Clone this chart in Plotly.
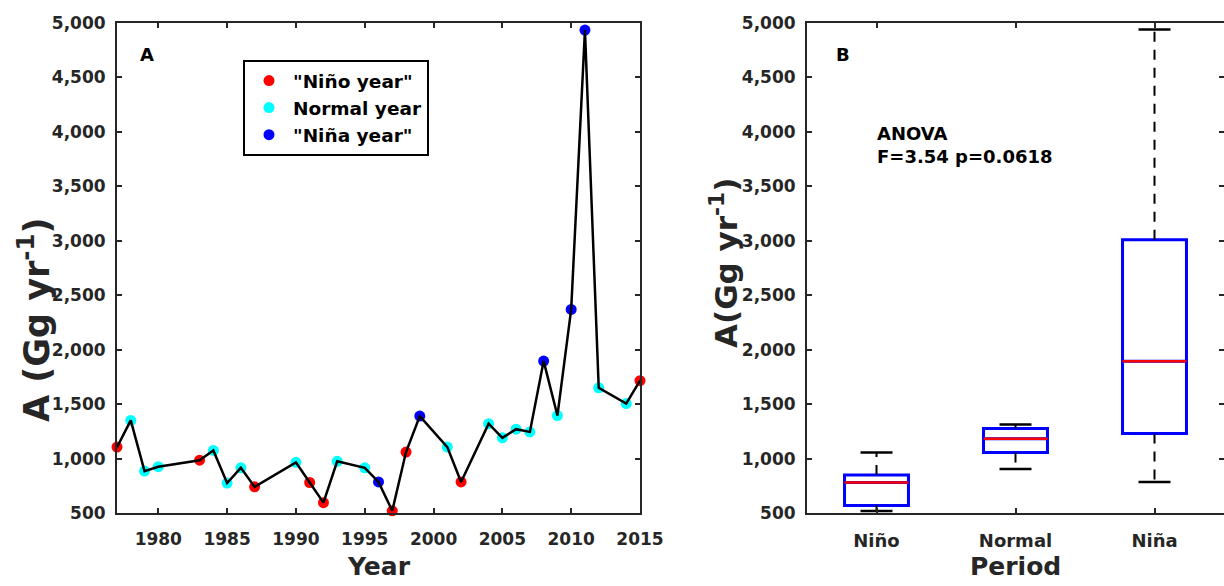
import plotly.graph_objects as go

# ---------------- data ----------------
years = [1977, 1978, 1979, 1980, 1983, 1984, 1985, 1986, 1987, 1990, 1991, 1992,
         1993, 1995, 1996, 1997, 1998, 1999, 2001, 2002, 2004, 2005, 2006, 2007,
         2008, 2009, 2010, 2011, 2012, 2014, 2015]
values = [1105, 1350, 885, 925, 985, 1075, 775, 915, 740, 965, 780, 595,
          975, 915, 785, 520, 1060, 1390, 1105, 785, 1320, 1190, 1270, 1245,
          1895, 1395, 2370, 4935, 1650, 1505, 1715]
year_type = ["nino", "normal", "normal", "normal", "nino", "normal", "normal", "normal",
             "nino", "normal", "nino", "nino", "normal", "normal", "nina", "nino",
             "nino", "nina", "normal", "nino", "normal", "normal", "normal", "normal",
             "nina", "normal", "nina", "nina", "normal", "normal", "nino"]

type_keys = ["nino", "normal", "nina"]
type_labels = ['"Niño year"', "Normal year", '"Niña year"']
type_colors = ["#FF0000", "#00FFFF", "#0000FF"]

periods = ["Niño", "Normal", "Niña"]
box_q1 = [570, 1055, 1230]
box_median = [780, 1182, 1893]
box_q3 = [850, 1277, 3010]
whisker_low = [518, 905, 784]
whisker_high = [1055, 1312, 4940]

y_ticks = list(range(500, 5001, 500))
x_ticks = [1980, 1985, 1990, 1995, 2000, 2005, 2010, 2015]

# ---------------- style ----------------
FONT = "DejaVu Sans"
AX = "#262626"
W, H = 1224, 586
BOX_W = 0.46
CAP_W = 0.23

def px(x):
    return x / W

def py(y):
    return 1 - y / H

fig = go.Figure()

# Panel A: markers (under the line)
for key, lab, col in zip(type_keys, type_labels, type_colors):
    xs = [yr for yr, t in zip(years, year_type) if t == key]
    ys = [v for v, t in zip(values, year_type) if t == key]
    fig.add_trace(go.Scatter(x=xs, y=ys, mode="markers", name=lab,
                             marker=dict(color=col, size=11, line=dict(width=0)),
                             xaxis="x", yaxis="y", cliponaxis=False))
fig.add_trace(go.Scatter(x=years, y=values, mode="lines", showlegend=False,
                         line=dict(color="black", width=2.5),
                         xaxis="x", yaxis="y", hoverinfo="skip"))

# Panel B: box plot
pos = [i + 1 for i in range(len(periods))]
wx, wy, cx, cy, mx, my = [], [], [], [], [], []
for p, lo, q1, med, q3, hi in zip(pos, whisker_low, box_q1, box_median, box_q3, whisker_high):
    wx += [p, p, None, p, p, None]
    wy += [q3, hi, None, q1, lo, None]
    cx += [p - CAP_W / 2, p + CAP_W / 2, None, p - CAP_W / 2, p + CAP_W / 2, None]
    cy += [hi, hi, None, lo, lo, None]
    mx += [p - BOX_W / 2, p + BOX_W / 2, None]
    my += [med, med, None]

fig.add_trace(go.Scatter(x=wx, y=wy, mode="lines", showlegend=False,
                         line=dict(color="black", width=2, dash="10px,8px"),
                         xaxis="x2", yaxis="y2", hoverinfo="skip"))
fig.add_trace(go.Scatter(x=cx, y=cy, mode="lines", showlegend=False,
                         line=dict(color="black", width=2.5),
                         xaxis="x2", yaxis="y2", hoverinfo="skip"))
fig.add_trace(go.Box(x=pos, q1=box_q1, median=box_median, q3=box_q3,
                     lowerfence=box_q1, upperfence=box_q3, width=BOX_W,
                     whiskerwidth=0, boxpoints=False, showlegend=False,
                     fillcolor="rgba(0,0,0,0)", line=dict(color="#0000FF", width=3),
                     xaxis="x2", yaxis="y2"))
fig.add_trace(go.Scatter(x=mx, y=my, mode="lines", showlegend=False,
                         line=dict(color="#FF0000", width=2.5),
                         xaxis="x2", yaxis="y2", hoverinfo="skip"))

axis_common = dict(showline=True, linecolor=AX, linewidth=2, mirror="ticks",
                   ticks="inside", ticklen=5, tickwidth=1.5, tickcolor=AX,
                   showgrid=False, zeroline=False, automargin=False)
tick_num_font = dict(family=FONT, size=17, color=AX, weight="bold")

y_dom = [py(513), py(23)]
fig.update_layout(
    width=W, height=H,
    margin=dict(l=0, r=0, t=0, b=0, autoexpand=False),
    paper_bgcolor="white", plot_bgcolor="white",
    xaxis=dict(domain=[px(117), px(640)], range=[1977, 2015], tickvals=x_ticks,
               tickfont=tick_num_font, ticklabelstandoff=10, anchor="y", **axis_common),
    yaxis=dict(domain=y_dom, range=[500, 5000], tickvals=y_ticks, tickformat=",",
               tickfont=tick_num_font, ticklabelstandoff=6, anchor="x", **axis_common),
    xaxis2=dict(domain=[px(807), 1.0], range=[0.5, 3.5], tickvals=pos, ticktext=periods,
                tickfont=dict(family=FONT, size=18, color=AX, weight="bold"),
                ticklabelstandoff=10, anchor="y2", **axis_common),
    yaxis2=dict(domain=y_dom, range=[500, 5000], tickvals=y_ticks, tickformat=",",
                tickfont=tick_num_font, ticklabelstandoff=6, anchor="x2", **axis_common),
    showlegend=True,
    legend=dict(x=px(243), y=py(60), xanchor="left", yanchor="top",
                bgcolor="white", bordercolor="black", borderwidth=2,
                itemwidth=38,
                font=dict(family=FONT, size=18.5, color="black", weight="bold"),
                itemclick=False),
)

ann_font = lambda s, c="black": dict(family=FONT, size=s, color=c, weight="bold")
annotations = [
    dict(text="A", x=px(147), y=py(54), font=ann_font(18)),
    dict(text="B", x=px(843), y=py(55), font=ann_font(18)),
    dict(text="ANOVA<br>F=3.54 p=0.0618", x=px(875), y=py(145), xanchor="left",
         align="left", font=ann_font(18)),
    dict(text="Year", x=px(379), y=py(566), font=ann_font(25, AX)),
    dict(text="Period", x=px(1015), y=py(566), font=ann_font(25, AX)),
    dict(text="A (Gg yr<sup>-1</sup>)", x=px(34), y=py(320), textangle=-90,
         font=ann_font(35, AX)),
    dict(text="A(Gg yr<sup>-1</sup>)", x=px(724), y=py(263), textangle=-90,
         font=ann_font(31, AX)),
]
for a in annotations:
    a.setdefault("xanchor", "center")
    a.setdefault("yanchor", "middle")
    fig.add_annotation(xref="paper", yref="paper", showarrow=False, **a)

fig.write_html("out.html")
